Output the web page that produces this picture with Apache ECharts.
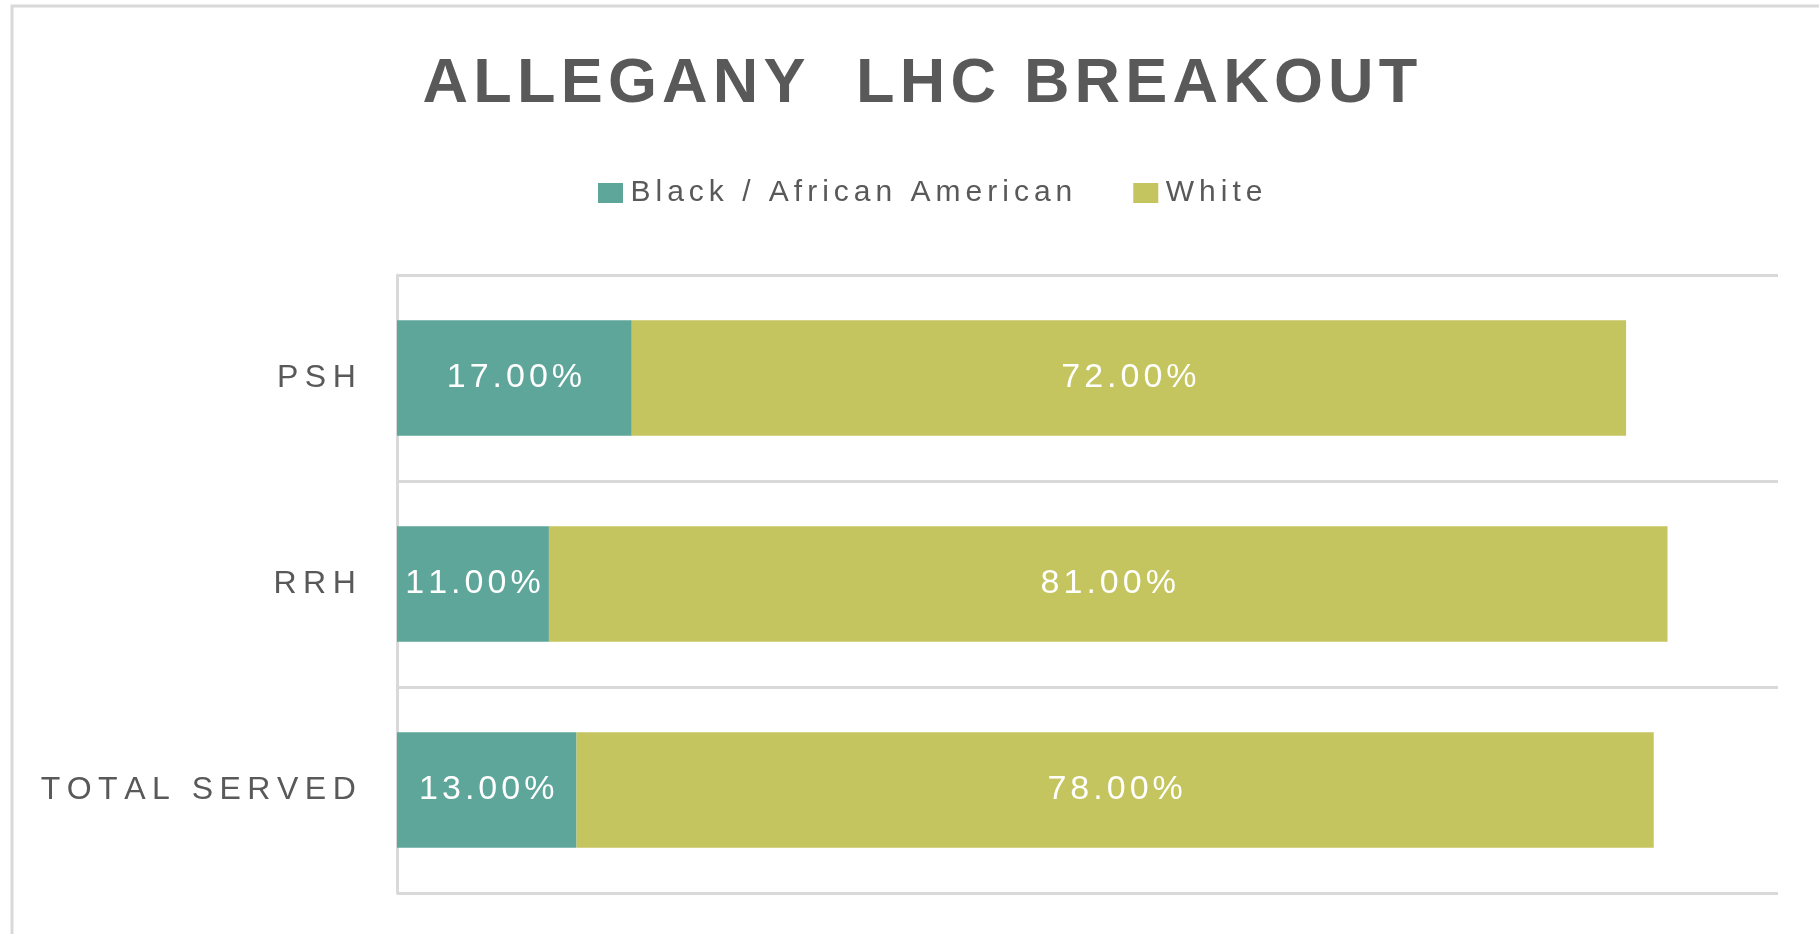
<!DOCTYPE html>
<html>
<head>
<meta charset="utf-8">
<script src="https://cdn.jsdelivr.net/npm/echarts@6/dist/echarts.min.js"></script>
<style>
    html, body { margin: 0; padding: 0; background: #fff; }
    #chart { width: 1819px; height: 934px; }
</style>
</head>
<body>
<div id="chart"></div>
<script>
var categories = ['PSH', 'RRH', 'TOTAL SERVED'];
var seriesNames = ['Black / African American', 'White'];
var blackValues = [17, 11, 13];
var whiteValues = [72, 81, 78];

var colors = ['#5fa69a', '#c4c55e'];
var textColor = '#595959';
var font = '"Liberation Sans", Arial, sans-serif';

// spread the letters out, one rich token per character
function spaced(text, key) {
    return String(text).split('').map(function (c) {
        return '{' + key + '|' + c + '}';
    }).join('');
}

function pct(v) {
    return v.toFixed(2) + '%';
}

var chart = echarts.init(document.getElementById('chart'));

var option = {
    backgroundColor: '#fff',
    animation: false,
    title: {
        text: spaced('ALLEGANY  LHC BREAKOUT', 't'),
        left: 415,
        top: 48,
        textStyle: {
            rich: {
                t: { fontFamily: font, fontWeight: 'bold', fontSize: 63, color: textColor, padding: [0, 2.6] }
            }
        }
    },
    legend: {
        left: 593,
        top: 173,
        itemWidth: 25,
        itemHeight: 20,
        itemGap: 61,
        icon: 'rect',
        data: seriesNames,
        formatter: function (name) { return spaced(name, 'l'); },
        textStyle: {
            rich: {
                l: { fontFamily: font, fontSize: 30, color: textColor, padding: [0, 2.5] }
            }
        }
    },
    grid: {
        left: 397,
        right: 41,
        top: 275,
        bottom: 41
    },
    xAxis: {
        type: 'value',
        min: 0,
        max: 100,
        axisLabel: { show: false },
        axisLine: { show: false },
        axisTick: { show: false },
        splitLine: { show: false }
    },
    yAxis: {
        type: 'category',
        inverse: true,
        data: categories,
        axisLine: { show: true, lineStyle: { color: '#d9d9d9', width: 3 } },
        axisTick: { show: false },
        splitLine: { show: true, lineStyle: { color: '#d9d9d9', width: 3 } },
        axisLabel: {
            margin: 38,
            formatter: function (v) { return spaced(v, 'a'); },
            rich: {
                a: { fontFamily: font, fontSize: 32, color: textColor, padding: [0, 3.25] }
            }
        }
    },
    graphic: [{
        type: 'polyline',
        shape: { points: [[12, 934], [12, 6], [1819, 6]] },
        style: { stroke: '#d9d9d9', lineWidth: 3, fill: null },
        silent: true
    }],
    series: [
        {
            name: seriesNames[0],
            type: 'bar',
            stack: 'total',
            barCategoryGap: '44%',
            data: blackValues,
            itemStyle: { color: colors[0] },
            label: {
                show: true,
                position: 'inside',
                formatter: function (p) { return spaced(pct(p.value), 'v'); },
                rich: {
                    v: { fontFamily: font, fontSize: 34, color: '#fff', padding: [0, 2] }
                }
            }
        },
        {
            name: seriesNames[1],
            type: 'bar',
            stack: 'total',
            barCategoryGap: '44%',
            data: whiteValues,
            itemStyle: { color: colors[1] },
            label: {
                show: true,
                position: 'inside',
                formatter: function (p) { return spaced(pct(p.value), 'v'); },
                rich: {
                    v: { fontFamily: font, fontSize: 34, color: '#fff', padding: [0, 2] }
                }
            }
        }
    ]
};

chart.setOption(option);
</script>
</body>
</html>
